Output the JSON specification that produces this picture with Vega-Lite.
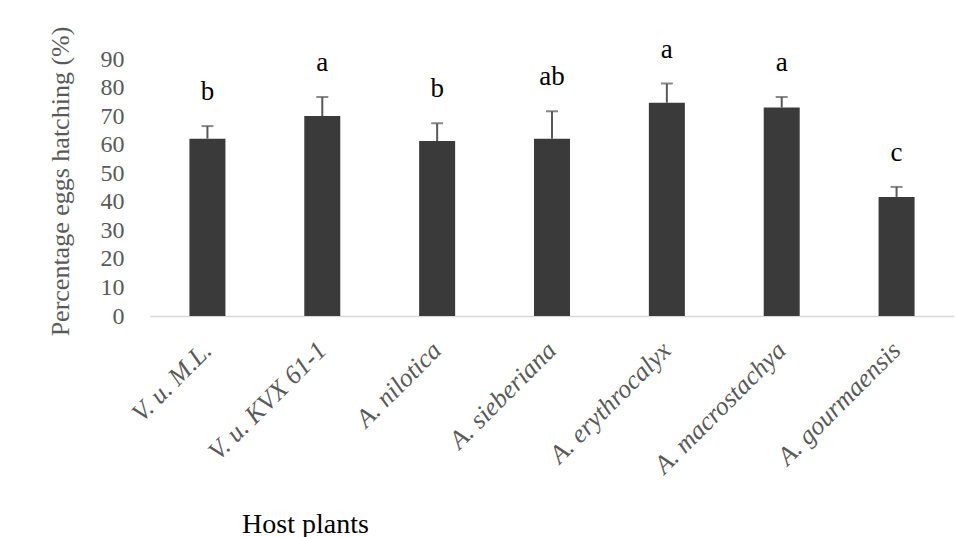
{
  "$schema": "https://vega.github.io/schema/vega-lite/v6.json",
  "width": 804,
  "height": 257,
  "autosize": {"type": "none"},
  "padding": {"left": 150, "top": 59, "right": 2, "bottom": 221},
  "background": "white",
  "config": {
    "view": {"stroke": null},
    "font": "Liberation Serif",
    "text": {"font": "Liberation Serif"},
    "axis": {"labelFont": "Liberation Serif", "titleFont": "Liberation Serif"},
    "axisY": {
      "titleFontSize": 26,
      "titleFontWeight": "normal",
      "titleColor": "#595959",
      "titleAngle": -90,
      "titleX": -90,
      "titleY": 122,
      "titleAlign": "center",
      "titleBaseline": "middle",
      "labelFontSize": 24,
      "labelColor": "#595959",
      "labelPadding": 26,
      "labelOverlap": false,
      "ticks": false,
      "tickSize": 0,
      "domain": false,
      "grid": false
    }
  },
  "data": {
    "values": [
      {"host": "V. u. M.L.", "mean": 62.1, "upper": 66.5, "group": "b"},
      {"host": "V. u. KVX 61-1", "mean": 70.0, "upper": 76.7, "group": "a"},
      {"host": "A. nilotica", "mean": 61.3, "upper": 67.5, "group": "b"},
      {"host": "A. sieberiana", "mean": 62.1, "upper": 71.7, "group": "ab"},
      {"host": "A. erythrocalyx", "mean": 74.7, "upper": 81.4, "group": "a"},
      {"host": "A. macrostachya", "mean": 73.0, "upper": 76.7, "group": "a"},
      {"host": "A. gourmaensis", "mean": 41.7, "upper": 45.2, "group": "c"}
    ]
  },
  "encoding": {
    "x": {
      "field": "host",
      "type": "nominal",
      "sort": null,
      "scale": {"paddingInner": 0, "paddingOuter": 0},
      "axis": {
        "title": "Host plants",
        "titleFontSize": 28,
        "titleFontWeight": "normal",
        "titleColor": "#000000",
        "titleX": 155,
        "titleY": 216,
        "titleAlign": "center",
        "titleBaseline": "alphabetic",
        "labelAngle": -45,
        "labelAlign": "right",
        "labelBaseline": "middle",
        "labelFontSize": 26,
        "labelFontStyle": "italic",
        "labelColor": "#595959",
        "labelPadding": 30,
        "labelOverlap": false,
        "ticks": false,
        "tickSize": 0,
        "domainColor": "#d9d9d9",
        "domainWidth": 1.5,
        "grid": false
      }
    }
  },
  "layer": [
    {
      "mark": {"type": "bar", "size": 36, "color": "#3a3a3a"},
      "encoding": {
        "y": {
          "field": "mean",
          "type": "quantitative",
          "scale": {"domain": [0, 90], "nice": false},
          "axis": {"title": "Percentage eggs hatching (%)", "values": [0, 10, 20, 30, 40, 50, 60, 70, 80, 90], "labelOverlap": false}
        }
      }
    },
    {
      "mark": {"type": "rule", "color": "#595959", "strokeWidth": 2},
      "encoding": {
        "y": {"field": "mean", "type": "quantitative", "axis": {"title": "Percentage eggs hatching (%)", "values": [0, 10, 20, 30, 40, 50, 60, 70, 80, 90], "labelOverlap": false}},
        "y2": {"field": "upper"}
      }
    },
    {
      "mark": {"type": "tick", "color": "#595959", "thickness": 2, "size": 12, "orient": "horizontal"},
      "encoding": {
        "y": {"field": "upper", "type": "quantitative", "axis": {"title": "Percentage eggs hatching (%)", "values": [0, 10, 20, 30, 40, 50, 60, 70, 80, 90], "labelOverlap": false}}
      }
    },
    {
      "mark": {"type": "text", "fontSize": 27, "color": "#000000", "baseline": "alphabetic", "dy": -26, "font": "Liberation Serif"},
      "encoding": {
        "y": {"field": "upper", "type": "quantitative", "axis": {"title": "Percentage eggs hatching (%)", "values": [0, 10, 20, 30, 40, 50, 60, 70, 80, 90], "labelOverlap": false}},
        "text": {"field": "group"}
      }
    }
  ]
}
